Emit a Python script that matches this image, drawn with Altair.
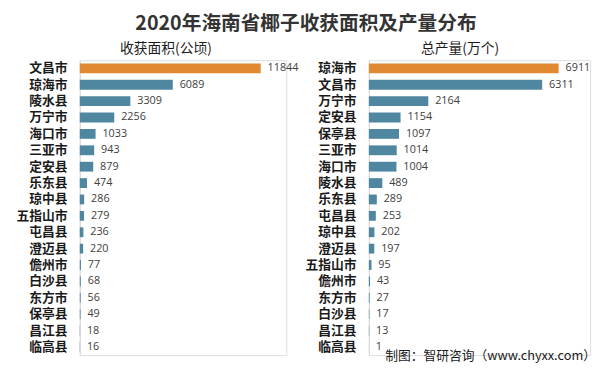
import altair as alt
import pandas as pd

left_cities = ["文昌市", "琼海市", "陵水县", "万宁市", "海口市", "三亚市", "定安县", "乐东县", "琼中县",
               "五指山市", "屯昌县", "澄迈县", "儋州市", "白沙县", "东方市", "保亭县", "昌江县", "临高县"]
left_values = [11844, 6089, 3309, 2256, 1033, 943, 879, 474, 286, 279, 236, 220, 77, 68, 56, 49, 18, 16]

right_cities = ["琼海市", "文昌市", "万宁市", "定安县", "保亭县", "三亚市", "海口市", "陵水县", "乐东县",
                "屯昌县", "琼中县", "澄迈县", "五指山市", "儋州市", "东方市", "白沙县", "昌江县", "临高县"]
right_values = [6911, 6311, 2164, 1154, 1097, 1014, 1004, 489, 289, 253, 202, 197, 95, 43, 27, 17, 13, 1]

title_text = "2020年海南省椰子收获面积及产量分布"
left_title = "收获面积(公顷)"
right_title = "总产量(万个)"
source_text = "制图：智研咨询（www.chyxx.com）"

ORANGE = "#E08832"
BLUE = "#5087A0"
CJK = "Noto Sans CJK SC"


def panel(cities, values, sub, width, dmax, dx, footer=False):
    df = pd.DataFrame({"city": cities, "value": values,
                       "top": [i == 0 for i in range(len(cities))]})
    y = alt.Y("city:N", sort=cities, title=None,
              scale=alt.Scale(paddingInner=0.4, paddingOuter=0.2),
              axis=alt.Axis(labelFont=CJK, labelFontSize=13, labelFontWeight="bold",
                            labelColor="#1a1a1a", labelPadding=13, ticks=False,
                            domainColor="#d9d9d9", grid=False))
    x = alt.X("value:Q", title=None, axis=None,
              scale=alt.Scale(domain=[0, dmax], nice=False, zero=True))
    base = alt.Chart(df)
    bars = base.mark_bar().encode(
        x=x, y=y,
        color=alt.condition("datum.top", alt.value(ORANGE), alt.value(BLUE)))
    text = base.mark_text(align="left", dx=7, font="Open Sans", fontSize=11,
                          color="#404040").encode(x=x, y=y, text="value:Q")
    layers = [bars, text]
    if footer:
        foot = alt.Chart(pd.DataFrame({"t": [source_text]})).mark_text(
            align="right", baseline="middle", font=CJK, fontSize=13, color="#1a1a1a"
        ).encode(text="t:N", x=alt.value(width + 6), y=alt.value(301))
        layers.append(foot)
    return alt.layer(*layers).properties(
        width=width, height=300,
        title=alt.TitleParams(sub, anchor="start", frame="group", dx=dx, font=CJK,
                              fontSize=14, fontWeight="normal", color="#1a1a1a", offset=4))


left = panel(left_cities, left_values, left_title, 210, 13517, 41)
right = panel(right_cities, right_values, right_title, 225, 8057, 53, footer=True)

chart = alt.hconcat(left, right, spacing=5).properties(
    title=alt.TitleParams(title_text, anchor="middle", font=CJK, fontSize=20,
                          fontWeight="bold", color="#333333", offset=8),
    padding={"left": 7, "top": 3, "right": 0, "bottom": 0},
).configure_view(stroke=None).configure(background="white")

chart.save("out.html", embed_options={"renderer": "svg", "actions": False})
